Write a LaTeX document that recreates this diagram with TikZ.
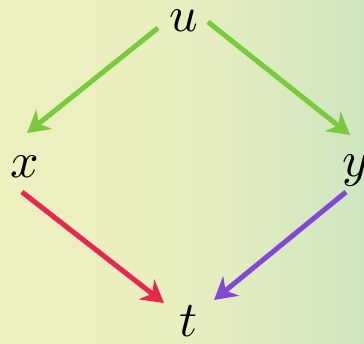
\documentclass[tikz,border=0pt]{standalone}
\usepackage{graphicx}
\usepackage{xcolor}
\usepackage{tikz}
\usetikzlibrary{arrows.meta,positioning,calc}
\newcommand{\vlbl}[1]{\scalebox{5}{$#1$}}
\definecolor{bgyellow}{RGB}{238,240,190}
\definecolor{bggreen}{RGB}{206,230,192}
\definecolor{egreen}{RGB}{122,202,62}
\definecolor{ered}{RGB}{232,38,78}
\definecolor{epurple}{RGB}{128,72,212}

\begin{document}
\begin{tikzpicture}[
  x=1pt, y=1pt,
  >={Stealth[length=22pt,width=25pt,inset=7pt]},
  every node/.style={align=center},
  vtx/.style  = {inner sep=0pt},
  edge/.style = {->, line width=5pt},
  gedge/.style = {edge, draw=egreen},
  redge/.style = {edge, draw=ered},
  pedge/.style = {edge, draw=epurple}
]
\shade[left color=bgyellow, right color=bggreen, middle color=bgyellow!85!bggreen]
  (0,0) rectangle (364,343);
\useasboundingbox (0,0) rectangle (364,343);

\node[vtx] (u) at (184, 322) {\vlbl{u}};
\node[vtx] (x) at ( 25, 176) {\vlbl{x}};
\node[vtx] (y) at (356, 172) {\vlbl{y}};
\node[vtx] (t) at (189,  22) {\vlbl{t}};

\draw[gedge] ($(u)+(-26,-7)$) -- ($(x)+(2,34)$);
\draw[gedge] ($(u)+(24,-1)$) -- ($(y)+(-6,36)$);
\draw[redge] ($(x)+(-3,-25)$) -- ($(t)+(-25,18)$);
\draw[pedge] ($(y)+(-10,-21)$) -- ($(t)+(25,21)$);
\end{tikzpicture}
\end{document}
